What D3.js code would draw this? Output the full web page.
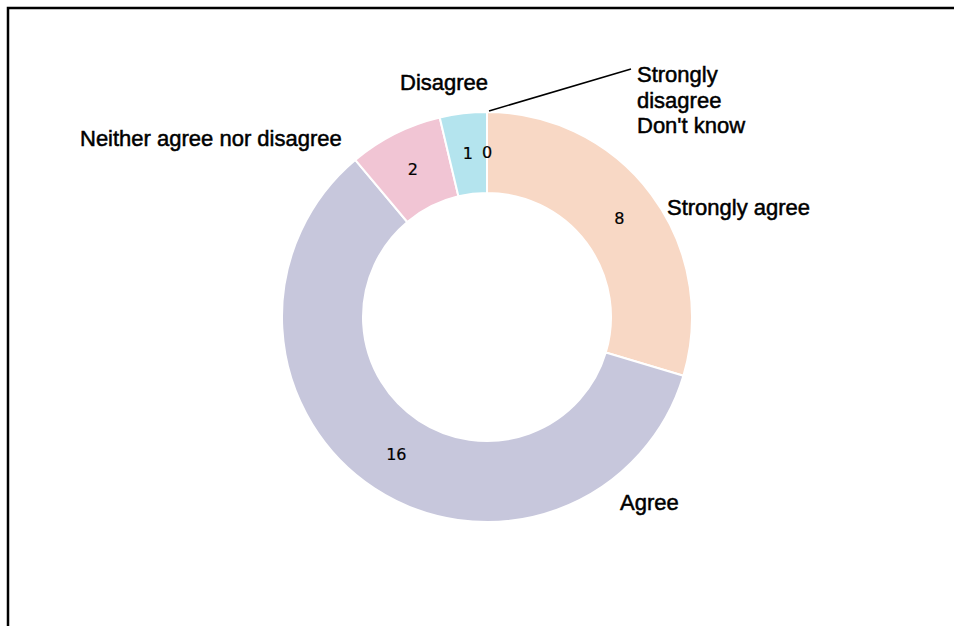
<!DOCTYPE html>
<html>
<head>
<meta charset="utf-8">
<script src="https://cdn.jsdelivr.net/npm/d3@7"></script>
<style>
  html, body { margin: 0; padding: 0; background: #fff; }
  svg { display: block; }
</style>
</head>
<body>
<div id="chart"></div>
<script>
// data
var categories = ["Strongly agree", "Agree", "Neither agree nor disagree", "Disagree", "Strongly disagree", "Don't know"];
var values = [8, 16, 2, 1, 0, 0];
var colors = ["#f8d8c5", "#c7c7dc", "#f1c5d4", "#b4e4ee", "#9dc3e6", "#d9d9d9"];

// label placement (offset from the centre of the ring), text lines
var labelLines = [["Strongly agree"], ["Agree"], ["Neither agree nor disagree"], ["Disagree"], ["Strongly", "disagree"], ["Don't know"]];
var labelOffsets = [[180, -102], [133, 193], [-407, -171], [-87, -227], [150, -235], [150, -184]];

var W = 954, H = 626;
var cx = 487, cy = 317;
var outerR = 205, innerR = 124;

var svg = d3.select("#chart")
            .append("svg")
            .attr("width", W)
            .attr("height", H);

// frame
svg.append("rect")
   .attr("x", 8)
   .attr("y", 8)
   .attr("width", W + 20)
   .attr("height", H + 20)
   .attr("fill", "none")
   .attr("stroke", "#000")
   .attr("stroke-width", 2.5);

var dataSet = [];
for (var i = 0; i < categories.length; i++) {
  dataSet[i] = { name: categories[i], val: values[i], color: colors[i], idx: i };
}

var pie = d3.pie()
            .sort(null)
            .value(function(d) { return d.val; });
var arcs = pie(dataSet);

var arc = d3.arc().innerRadius(innerR).outerRadius(outerR);
var valArc = d3.arc().innerRadius(165).outerRadius(165);

var g = svg.append("g").attr("transform", "translate(" + cx + "," + cy + ")");

// slices
g.selectAll("path.slice")
 .data(arcs)
 .enter()
 .append("path")
 .attr("class", "slice")
 .attr("d", arc)
 .attr("fill", function(d) { return d.data.color; })
 .attr("stroke", "#fff")
 .attr("stroke-width", function(d) { return d.data.val > 0 ? 2 : 0; });

// value labels
g.selectAll("text.val")
 .data(arcs.filter(function(d) { return d.data.idx < 5; }))
 .enter()
 .append("text")
 .attr("class", "val")
 .attr("x", function(d) { return valArc.centroid(d)[0]; })
 .attr("y", function(d) { return valArc.centroid(d)[1]; })
 .attr("text-anchor", "middle")
 .attr("dominant-baseline", "central")
 .style("font-family", "DejaVu Sans, Verdana, sans-serif")
 .style("font-size", "16px")
 .attr("fill", "#000")
 .attr("stroke", "#000")
 .attr("stroke-width", 0.2);

g.selectAll("text.val").text(function(d) { return d.data.val; });

// leader line for the zero slices
var zeroArc = arcs[4];
var p0 = d3.pointRadial(zeroArc.startAngle, outerR + 1);
g.append("line")
 .attr("x1", p0[0] + 2)
 .attr("y1", p0[1])
 .attr("x2", labelOffsets[4][0] - 6)
 .attr("y2", labelOffsets[4][1] - 13)
 .attr("stroke", "#000")
 .attr("stroke-width", 1.5);

// category labels
var lab = g.selectAll("text.cat")
 .data(dataSet)
 .enter()
 .append("text")
 .attr("class", "cat")
 .attr("x", function(d) { return labelOffsets[d.idx][0]; })
 .attr("y", function(d) { return labelOffsets[d.idx][1]; })
 .style("font-family", "Liberation Sans, Arial, sans-serif")
 .style("font-size", "22px")
 .attr("fill", "#000")
 .attr("stroke", "#000")
 .attr("stroke-width", 0.5);

lab.each(function(d) {
  var t = d3.select(this);
  labelLines[d.idx].forEach(function(line, j) {
    t.append("tspan")
     .attr("x", labelOffsets[d.idx][0])
     .attr("dy", j === 0 ? 0 : 25.5)
     .text(line);
  });
});
</script>
</body>
</html>
